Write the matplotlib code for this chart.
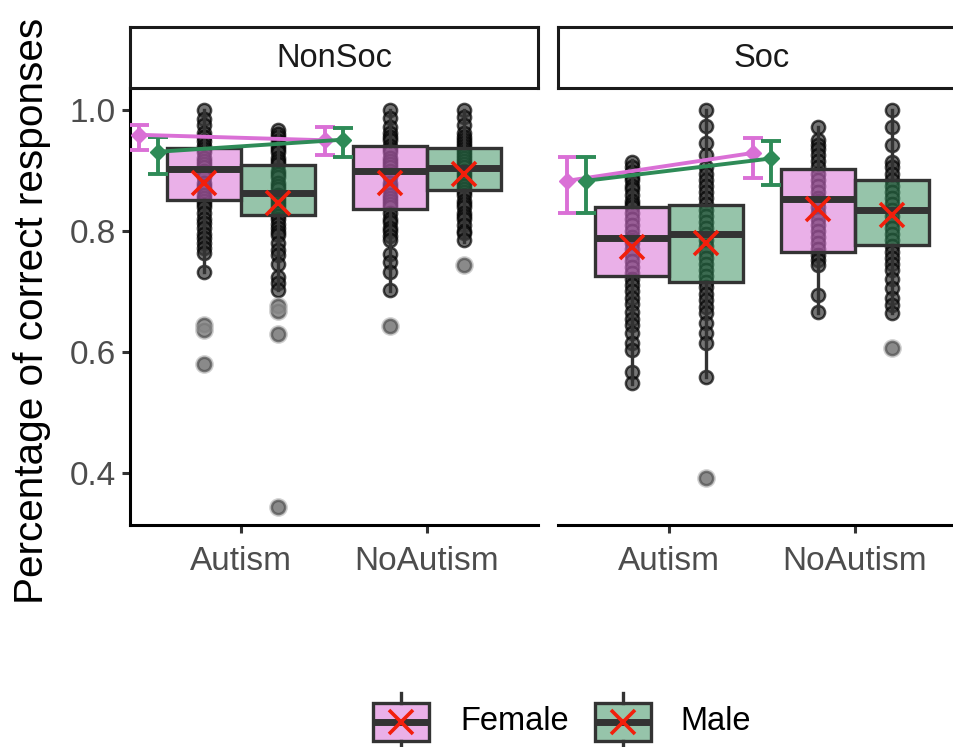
import matplotlib
matplotlib.use("Agg")
import matplotlib.pyplot as plt
from matplotlib.patches import Rectangle

plt.rcParams['font.family'] = ['Liberation Sans', 'DejaVu Sans']

# ---------------- data ----------------
conditions = ["NonSoc", "Soc"]
diagnoses = ["Autism", "NoAutism"]
sexes = ["Female", "Male"]

# box statistics, order: (cond, diag, sex)
# NonSoc-Autism-F, NonSoc-Autism-M, NonSoc-NoAutism-F, NonSoc-NoAutism-M,
# Soc-Autism-F, Soc-Autism-M, Soc-NoAutism-F, Soc-NoAutism-M
box_q1 = [0.851, 0.826, 0.836, 0.868, 0.725, 0.715, 0.766, 0.777]
box_med = [0.902, 0.862, 0.899, 0.904, 0.789, 0.795, 0.853, 0.835]
box_q3 = [0.937, 0.909, 0.940, 0.937, 0.840, 0.843, 0.902, 0.884]
box_wlo = [0.733, 0.702, 0.700, 0.782, 0.547, 0.559, 0.665, 0.665]
box_whi = [1.000, 0.967, 1.000, 1.000, 0.917, 1.000, 0.972, 1.000]
box_mean = [0.879, 0.846, 0.879, 0.895, 0.774, 0.780, 0.837, 0.826]
box_outliers = [
    [0.645, 0.637, 0.580],
    [0.676, 0.667, 0.629, 0.344],
    [0.643],
    [0.744],
    [],
    [0.392],
    [],
    [0.606],
]

# individual participant scores
pts_nonsoc_aut_f = [1.0, 0.985, 0.975, 0.962, 0.955, 0.948, 0.94, 0.935, 0.93, 0.92, 0.915,
                    0.91, 0.905, 0.90, 0.895, 0.89, 0.88, 0.875, 0.87, 0.86, 0.855, 0.85,
                    0.845, 0.84, 0.83, 0.82, 0.813, 0.805, 0.795, 0.788, 0.78, 0.772, 0.764,
                    0.733, 0.645, 0.637, 0.580]
pts_nonsoc_aut_m = [0.967, 0.96, 0.955, 0.948, 0.94, 0.935, 0.93, 0.92, 0.915, 0.91, 0.90,
                    0.895, 0.89, 0.88, 0.875, 0.87, 0.86, 0.855, 0.85, 0.845, 0.84, 0.83,
                    0.825, 0.82, 0.812, 0.805, 0.798, 0.793, 0.78, 0.769, 0.76, 0.745,
                    0.724, 0.714, 0.702, 0.676, 0.667, 0.629, 0.344]
pts_nonsoc_noa_f = [1.0, 0.987, 0.972, 0.962, 0.955, 0.95, 0.94, 0.935, 0.93, 0.92, 0.915,
                    0.91, 0.905, 0.90, 0.895, 0.89, 0.88, 0.875, 0.87, 0.86, 0.855, 0.85,
                    0.845, 0.84, 0.83, 0.82, 0.815, 0.805, 0.80, 0.792, 0.785, 0.762,
                    0.748, 0.733, 0.702, 0.643]
pts_nonsoc_noa_m = [1.0, 0.988, 0.975, 0.962, 0.955, 0.95, 0.945, 0.94, 0.935, 0.93, 0.925,
                    0.92, 0.915, 0.91, 0.905, 0.90, 0.895, 0.89, 0.885, 0.88, 0.875, 0.87,
                    0.865, 0.86, 0.85, 0.845, 0.84, 0.83, 0.825, 0.82, 0.81, 0.80, 0.797,
                    0.785, 0.744]
pts_soc_aut_f = [0.914, 0.905, 0.898, 0.89, 0.885, 0.875, 0.87, 0.86, 0.85, 0.845, 0.84,
                 0.83, 0.82, 0.81, 0.80, 0.79, 0.785, 0.78, 0.77, 0.76, 0.75, 0.74, 0.73,
                 0.72, 0.71, 0.70, 0.69, 0.68, 0.666, 0.655, 0.645, 0.631, 0.615, 0.603,
                 0.567, 0.549]
pts_soc_aut_m = [1.0, 0.973, 0.946, 0.926, 0.906, 0.895, 0.885, 0.875, 0.865, 0.855, 0.845,
                 0.835, 0.825, 0.815, 0.805, 0.795, 0.785, 0.775, 0.765, 0.755, 0.745, 0.735,
                 0.725, 0.715, 0.707, 0.696, 0.686, 0.675, 0.664, 0.648, 0.631, 0.615,
                 0.559, 0.392]
pts_soc_noa_f = [0.972, 0.95, 0.942, 0.935, 0.925, 0.915, 0.905, 0.895, 0.885, 0.875, 0.865,
                 0.855, 0.85, 0.84, 0.83, 0.82, 0.81, 0.80, 0.79, 0.78, 0.77, 0.76, 0.752,
                 0.744, 0.694, 0.666]
pts_soc_noa_m = [1.0, 0.972, 0.942, 0.914, 0.905, 0.895, 0.885, 0.875, 0.865, 0.855, 0.845,
                 0.835, 0.825, 0.815, 0.805, 0.795, 0.785, 0.775, 0.765, 0.755, 0.745,
                 0.735, 0.72, 0.705, 0.69, 0.678, 0.665, 0.606]
points = [pts_nonsoc_aut_f, pts_nonsoc_aut_m, pts_nonsoc_noa_f, pts_nonsoc_noa_m,
          pts_soc_aut_f, pts_soc_aut_m, pts_soc_noa_f, pts_soc_noa_m]

# summary (mean +/- error) per condition, sex, at two summary positions
summary_pos = [0.5, 1.5]
sum_mean = {("NonSoc", "Female"): [0.959, 0.950], ("NonSoc", "Male"): [0.931, 0.951],
            ("Soc", "Female"): [0.883, 0.929], ("Soc", "Male"): [0.883, 0.920]}
sum_lo = {("NonSoc", "Female"): [0.934, 0.926], ("NonSoc", "Male"): [0.894, 0.923],
          ("Soc", "Female"): [0.829, 0.887], ("Soc", "Male"): [0.830, 0.876]}
sum_hi = {("NonSoc", "Female"): [0.975, 0.972], ("NonSoc", "Male"): [0.956, 0.970],
          ("Soc", "Female"): [0.923, 0.954], ("Soc", "Male"): [0.923, 0.949]}

yticks = [0.4, 0.6, 0.8, 1.0]

# ---------------- style ----------------
line_col = {"Female": "#DA70D6", "Male": "#2E8B57"}
fill_col = {"Female": (0.855, 0.439, 0.839, 0.55), "Male": (0.180, 0.545, 0.341, 0.50)}
edge = "#333333"
W, H = 954, 747
fig = plt.figure(figsize=(W / 100, H / 100), dpi=100)


def frac(x0, y0, x1, y1):
    return [x0 / W, 1 - y1 / H, (x1 - x0) / W, (y1 - y0) / H]


axes = [fig.add_axes(frac(130, 88, 538, 525)), fig.add_axes(frac(558, 88, 966, 525))]
ylim = (0.3140, 1.0364)

for ci, cond in enumerate(conditions):
    ax = axes[ci]
    ax.set_xlim(0.4, 2.6)
    ax.set_ylim(*ylim)
    for s in ["top", "right"]:
        ax.spines[s].set_visible(False)
    ax.spines["bottom"].set_linewidth(2.2)
    ax.spines["left"].set_linewidth(2.2)
    ax.set_xticks([1, 2])
    ax.set_xticklabels(diagnoses)
    ax.tick_params(axis="x", length=6, width=2.2, color=edge, labelsize=24,
                   labelcolor="#4D4D4D", pad=9)
    if ci == 0:
        ax.set_yticks(yticks)
        ax.set_yticklabels([f"{v:.1f}" for v in yticks])
        ax.tick_params(axis="y", length=6, width=2.2, color=edge, labelsize=24,
                       labelcolor="#4D4D4D", pad=4)
    else:
        ax.spines["left"].set_visible(False)
        ax.set_yticks([])

    for di, diag in enumerate(diagnoses):
        for si, sex in enumerate(sexes):
            k = ci * 4 + di * 2 + si
            x = (di + 1) + (-0.2 if si == 0 else 0.2)
            vals = points[k]
            ax.plot([x] * len(vals), vals, "o", ms=9.5, mfc="#3a3a3a", mec="#000000",
                    mew=1.8, alpha=0.7, zorder=2, linestyle="none")
            stats = [dict(med=box_med[k], q1=box_q1[k], q3=box_q3[k],
                          whislo=box_wlo[k], whishi=box_whi[k], fliers=[])]
            ax.bxp(stats, positions=[x], widths=0.4, patch_artist=True,
                   showcaps=False, showfliers=False, manage_ticks=False,
                   boxprops=dict(facecolor=fill_col[sex], edgecolor=edge, linewidth=2.4),
                   medianprops=dict(color=edge, linewidth=5, solid_capstyle="butt"),
                   whiskerprops=dict(color=edge, linewidth=2.4), zorder=3)
            if box_outliers[k]:
                ax.plot([x] * len(box_outliers[k]), box_outliers[k], "o", ms=13.5,
                        color="#a0a0a0", alpha=0.5, mew=0, zorder=4, linestyle="none")
            ax.plot([x], [box_mean[k]], marker="x", ms=17, mew=2.6, color="#F21F0C",
                    zorder=6, linestyle="none")

    for si, sex in enumerate(sexes):
        off = -0.05 if si == 0 else 0.05
        xs = [p + off for p in summary_pos]
        m = sum_mean[(cond, sex)]
        lo = [a - b for a, b in zip(m, sum_lo[(cond, sex)])]
        hi = [b - a for a, b in zip(m, sum_hi[(cond, sex)])]
        ax.errorbar(xs, m, yerr=[lo, hi], fmt="D", ms=8, color=line_col[sex],
                    ecolor=line_col[sex], elinewidth=2.8, capsize=7, capthick=2.8,
                    linestyle="-", linewidth=2.8, zorder=5)

    # strip
    strip_x0 = 130 if ci == 0 else 558
    sax = fig.add_axes(frac(strip_x0, 27, strip_x0 + 408, 88))
    sax.set_xticks([])
    sax.set_yticks([])
    for sp in sax.spines.values():
        sp.set_linewidth(2.2)
        sp.set_color("#1a1a1a")
    sax.text(0.5, 0.48, cond, ha="center", va="center", fontsize=23.5, color="#1a1a1a",
             transform=sax.transAxes)

fig.text(32 / W, 1 - 311 / H, "Percentage of correct responses", rotation=90,
         ha="center", va="center", fontsize=29.2, color="black")

# legend drawn in figure pixel space
lax = fig.add_axes([0, 0, 1, 1], facecolor="none")
lax.set_xlim(0, W)
lax.set_ylim(H, 0)
lax.axis("off")
for sex, x0, tx in [("Female", 373, 460), ("Male", 595, 680)]:
    x1 = x0 + 56
    cx = (x0 + x1) / 2
    lax.plot([cx, cx], [693, 703], color=edge, lw=2.4)
    lax.plot([cx, cx], [741, 750], color=edge, lw=2.4)
    lax.add_patch(Rectangle((x0, 703), 56, 38, facecolor=fill_col[sex], edgecolor=edge,
                            lw=2.4))
    lax.plot([x0, x1], [722, 722], color=edge, lw=5, solid_capstyle="butt")
    lax.plot([cx], [722], marker="x", ms=17, mew=2.6, color="#F21F0C")
    lax.text(tx, 722, sex, ha="left", va="center", fontsize=23.5, color="black")

fig.savefig("out.png", dpi=100)
